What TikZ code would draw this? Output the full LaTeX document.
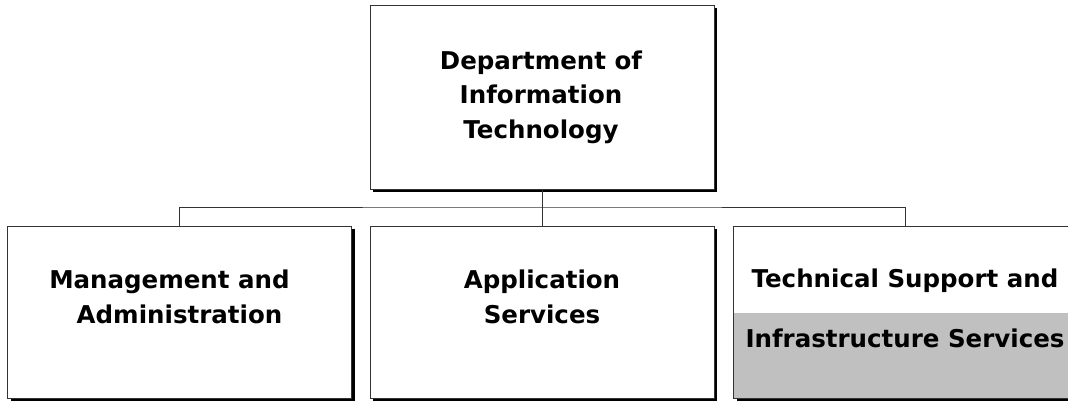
\documentclass[tikz,border=0pt]{standalone}
\usepackage{fontspec}
\setmainfont{DejaVu Sans}
\usetikzlibrary{shadows}
\definecolor{linegray}{HTML}{333333}
\definecolor{fillgray}{HTML}{C0C0C0}
\begin{document}
\begin{tikzpicture}[x=1pt,y=-1pt,
  unit/.style={draw=linegray, line width=1pt, fill=white, rectangle, inner sep=0pt, outer sep=0pt,
    minimum width=344pt, minimum height=172pt,
    drop shadow={shadow xshift=3pt, shadow yshift=-3pt, fill=black, opacity=1}},
  txt/.style={font=\fontsize{24.5}{34.5}\selectfont\bfseries, align=center, inner sep=0pt, text=black},
  conn/.style={draw=linegray, line width=1pt}]
\useasboundingbox (0,0) rectangle (1068,402);
\begin{scope}
\clip (0,0) rectangle (1068,402);
\node[unit, minimum height=184pt] (top) at (542,97) {};
\node[unit] (left) at (179.5,312) {};
\node[unit] (mid) at (542,312) {};
\node[unit, path picture={\fill[fillgray] ([yshift=85pt]path picture bounding box.south west) rectangle (path picture bounding box.south east);}] (right) at (905.5,312) {};
\draw[draw=linegray, line width=1pt] (right.south west) rectangle (right.north east);
\coordinate (bus) at (542,207);
\draw[conn] (top.south) -- (mid.north);
\draw[conn] (left.north) |- (bus) -| (right.north);
\node[txt, anchor=base] (toptxt) at (541,138) {Department of\\Information\\Technology};
\node[txt, anchor=base] (lefttxt) at (179.5,323) {Management and\hspace*{20pt}\\Administration};
\node[txt, anchor=base] (midtxt) at (542,323) {Application\\Services};
\node[txt, anchor=base] (righttxt1) at (905,287) {Technical Support and};
\node[txt, anchor=base] (righttxt2) at (905,347) {Infrastructure Services};
\end{scope}
\end{tikzpicture}
\end{document}
